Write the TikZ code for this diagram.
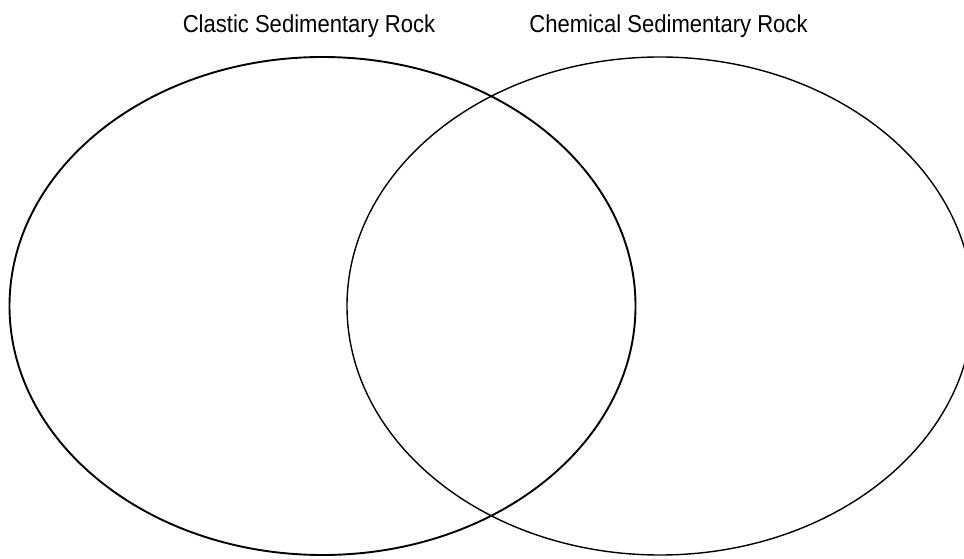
\documentclass[tikz,border=0pt]{standalone}
\usepackage{fontspec}
\newfontfamily\condfont[FakeStretch=0.9]{Liberation Sans}
\begin{document}
\begin{tikzpicture}[x=1pt,y=-1pt,
  setlabel/.style={font=\condfont\fontsize{24.5}{27}\selectfont, anchor=base, inner sep=0pt},
  leftset/.style={draw=black, line width=1.9pt},
  rightset/.style={draw=black, line width=1.4pt}]
\useasboundingbox (0,0) rectangle (964,559);
\coordinate (lc) at (322.5,306);
\coordinate (rc) at (660,306);
\draw[leftset] (lc) ellipse [x radius=313, y radius=249];
\draw[rightset] (rc) ellipse [x radius=313, y radius=249];
\node[setlabel] (clastic) at (309,32.5) {Clastic Sedimentary Rock};
\node[setlabel] (chemical) at (668.5,32.5) {Chemical Sedimentary Rock};
\end{tikzpicture}
\end{document}
